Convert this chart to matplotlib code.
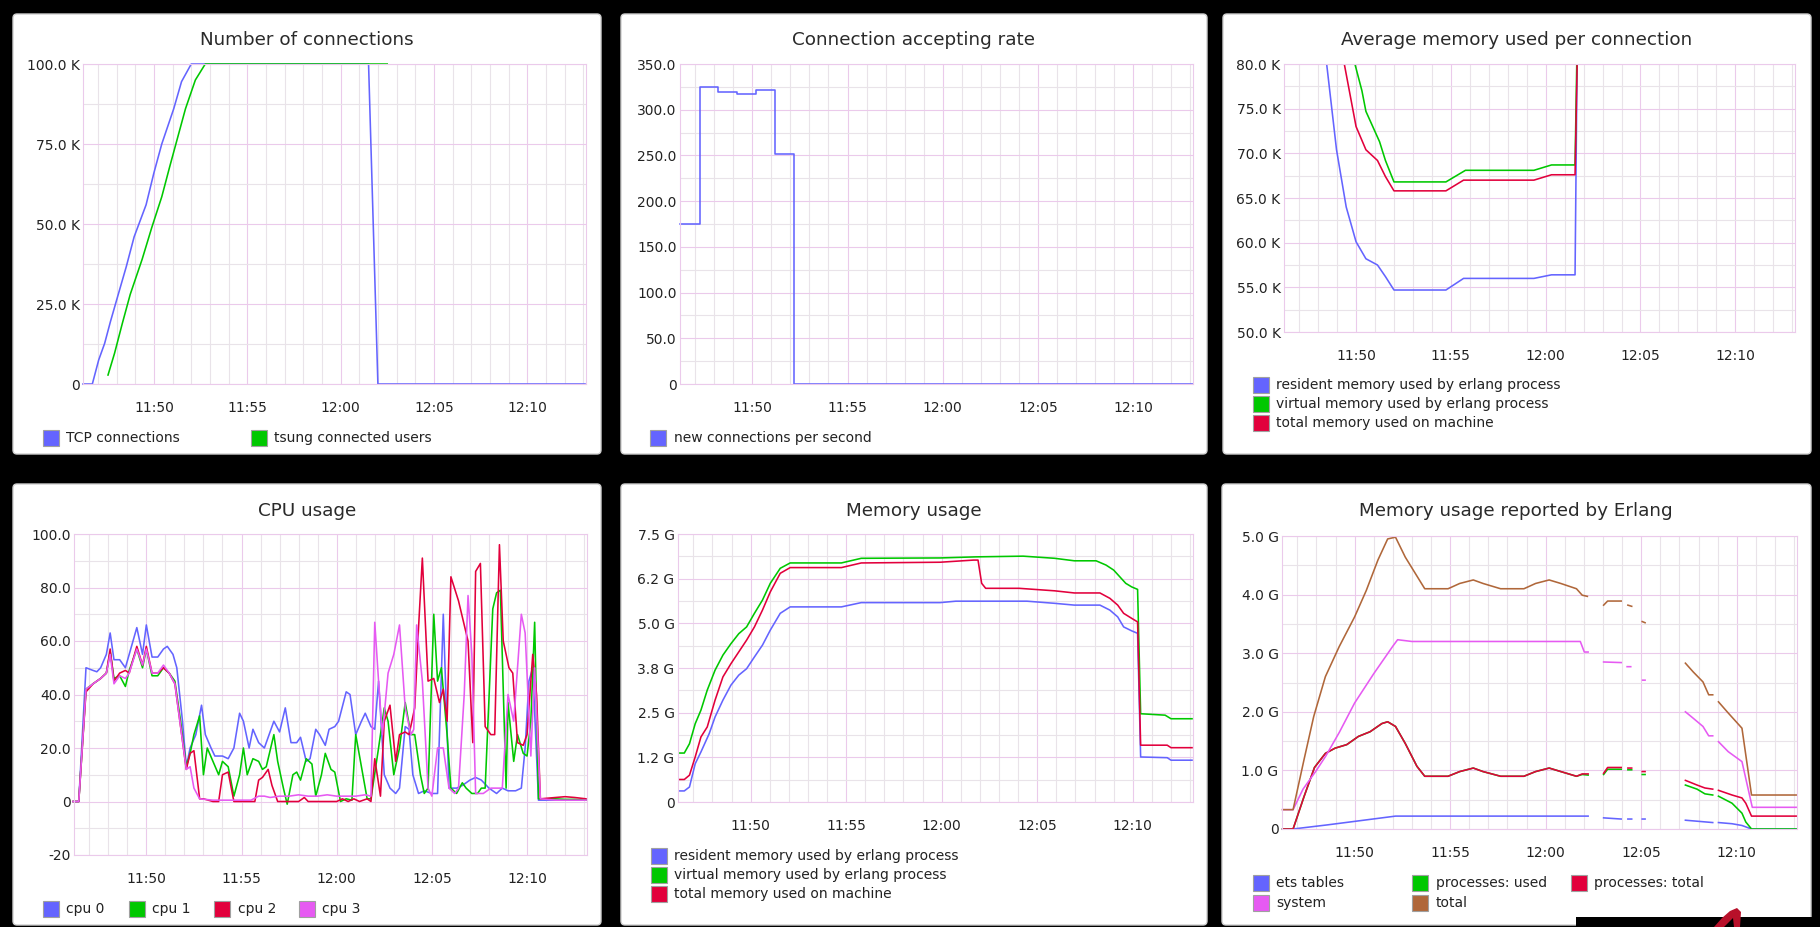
import numpy as np
import matplotlib
matplotlib.use("Agg")
import matplotlib.pyplot as plt
from matplotlib.patches import FancyBboxPatch, Rectangle, Polygon
from matplotlib.ticker import MultipleLocator
from matplotlib.transforms import IdentityTransform

nan = np.nan
W, H = 1820, 927

# ---------------- shared time axis (minutes after 11:00) ----------------
X_RANGE = (46.2, 73.15)
X_TICKS = [50, 55, 60, 65, 70]
X_TICK_LABELS = ["11:50", "11:55", "12:00", "12:05", "12:10"]
X_MINOR = [47, 48, 49, 51, 52, 53, 54, 56, 57, 58, 59, 61, 62, 63, 64,
           66, 67, 68, 69, 71, 72, 73]

# ---------------- panel 1: Number of connections (K) ----------------
tcp_t = [46.2, 46.7, 47.04, 47.36, 47.67, 47.99, 48.52, 48.94, 49.58, 50.0,
         50.42, 51.06, 51.48, 52.0, 61.5, 62.0, 73.1]
tcp_v = [0, 0, 7.5, 12.7, 19.5, 26, 36.7, 46, 56, 66, 75, 86, 94.5, 100, 100, 0, 0]
tsung_t = [47.54, 47.89, 48.31, 48.73, 49.37, 49.89, 50.42, 50.85, 51.27, 51.69,
           52.22, 52.75, 62.5]
tsung_v = [2.8, 9.6, 19, 28, 39, 49, 58.5, 68, 77, 86, 95, 100, 100]
p1_yticks = [0, 25, 50, 75, 100]
p1_ylabels = ["0", "25.0 K", "50.0 K", "75.0 K", "100.0 K"]

# ---------------- panel 2: Connection accepting rate ----------------
rate_t = [46.2, 47.24, 48.2, 49.2, 50.2, 51.2, 52.2, 73.15]
rate_v = [175.5, 324.5, 319, 317, 321.5, 252, 0, 0]
p2_yticks = [0, 50, 100, 150, 200, 250, 300, 350]
p2_ylabels = ["0", "50.0", "100.0", "150.0", "200.0", "250.0", "300.0", "350.0"]

# ---------------- panel 3: Average memory per connection (K) ----------------
avg_res_t = [48.2, 48.45, 48.97, 49.48, 50.0, 50.52, 51.13, 51.55, 52.0, 54.74,
             55.67, 59.38, 60.31, 61.55, 61.7]
avg_res_v = [86, 80, 70.4, 64, 60.1, 58.2, 57.5, 56.2, 54.7, 54.7, 56.0, 56.0,
             56.4, 56.4, 90]
avg_virt_t = [49.8, 49.94, 50.31, 50.52, 51.24, 51.55, 52.0, 54.74, 55.77, 59.38,
              60.31, 61.55, 61.72]
avg_virt_v = [85, 80, 77, 74.7, 71.3, 69.2, 66.8, 66.8, 68.1, 68.1, 68.7, 68.7, 90]
avg_tot_t = [49.2, 49.38, 50.0, 50.52, 51.13, 51.55, 52.0, 54.74, 55.67, 59.38,
             60.31, 61.55, 61.75]
avg_tot_v = [85, 80, 73, 70.4, 69.2, 67.4, 65.8, 65.8, 67.0, 67.0, 67.6, 67.6, 90]
p3_yticks = [50, 55, 60, 65, 70, 75, 80]
p3_ylabels = ["50.0 K", "55.0 K", "60.0 K", "65.0 K", "70.0 K", "75.0 K", "80.0 K"]

# ---------------- panel 4: CPU usage ----------------
cpu0_t = [46.15, 46.45, 46.83, 47.2, 47.4, 47.6, 47.9, 48.1, 48.3, 48.6, 48.9, 49.1,
          49.5, 49.8, 50.0, 50.3, 50.6, 50.9, 51.1, 51.4, 51.6, 51.9, 52.1, 52.3,
          52.6, 52.9, 53.1, 53.4, 53.6, 54.0, 54.3, 54.6, 54.9, 55.1, 55.4, 55.6,
          55.9, 56.2, 56.5, 56.7, 57.0, 57.3, 57.6, 57.9, 58.1, 58.4, 58.6, 58.9,
          59.1, 59.4, 59.6, 59.9, 60.1, 60.5, 60.7, 61.0, 61.3, 61.5, 61.8, 62.0,
          62.2, 62.5, 62.8, 63.1, 63.3, 63.6, 63.8, 64.0, 64.3, 64.6, 65.0, 65.3,
          65.6, 65.9, 66.3, 66.6, 67.0, 67.3, 67.6, 68.0, 68.4, 68.7, 69.0, 69.4,
          69.7, 69.9, 70.1, 70.3, 70.6, 71.0, 71.5, 72.0, 72.5, 73.1]
cpu0_v = [0, 0, 50, 49, 48.5, 50, 55, 63, 53, 53, 50, 55,
          65, 55, 66, 54, 54, 57, 58, 55, 50, 30, 13, 20,
          25, 36, 25, 20, 17, 17, 16, 20, 33, 30, 20, 27,
          22, 20, 26, 30, 26, 35, 22, 22, 24, 15, 16, 27,
          25, 21, 27, 28, 30, 41, 40, 25, 30, 33, 28, 27,
          45, 10, 5, 3, 5, 28, 27, 10, 3, 4, 3, 3,
          70, 5, 5, 6, 8, 9, 8, 5, 3, 5, 4, 4,
          5, 20, 45, 50, 0.5, 0.5, 0.5, 0.5, 0.5, 0.5]
cpu1_t = [46.15, 46.45, 46.83, 47.2, 47.6, 47.9, 48.1, 48.3, 48.6, 48.9, 49.1, 49.5,
          49.8, 50.0, 50.3, 50.6, 50.9, 51.2, 51.5, 51.8, 52.1, 52.3, 52.5, 52.8,
          53.0, 53.2, 53.5, 53.8, 54.0, 54.3, 54.6, 54.9, 55.1, 55.3, 55.6, 55.9,
          56.1, 56.3, 56.7, 56.9, 57.2, 57.4, 57.7, 57.9, 58.1, 58.4, 58.7, 58.9,
          59.2, 59.4, 59.7, 59.9, 60.2, 60.5, 60.8, 61.0, 61.3, 61.6, 61.8, 62.2,
          62.5, 62.7, 63.0, 63.3, 63.6, 63.9, 64.1, 64.4, 64.6, 64.8, 65.1, 65.3,
          65.5, 65.8, 66.0, 66.3, 66.6, 66.8, 67.1, 67.4, 67.6, 67.8, 68.2, 68.4,
          68.6, 68.9, 69.0, 69.3, 69.5, 69.8, 70.0, 70.2, 70.4, 70.6, 71.0, 71.5,
          72.0, 72.5, 73.1]
cpu1_v = [0, 0, 42, 44, 46, 48, 56, 46, 47, 43, 49, 57,
          50, 57, 47, 47, 50, 48, 45, 30, 13, 18, 25, 32,
          10, 20, 15, 10, 15, 13, 2, 10, 20, 10, 16, 15,
          12, 13, 25, 15, 5, -1, 10, 11, 8, 16, 14, 2,
          10, 18, 12, 11, 0, 1, 0.5, 25, 13, 1, 1, 20,
          35, 30, 10, 20, 37, 25, 25, 10, 3, 5, 70, 45,
          50, 25, 5, 3, 7, 5, 3, 3, 5, 5, 72, 78,
          79, 5, 37, 15, 25, 18, 17, 30, 67, 1, 1, 1,
          0.8, 0.8, 0.5]
cpu2_t = [46.15, 46.45, 46.83, 47.2, 47.6, 47.9, 48.1, 48.3, 48.6, 48.9, 49.1, 49.5,
          49.8, 50.0, 50.3, 50.6, 50.9, 51.2, 51.5, 51.8, 52.1, 52.3, 52.5, 52.8,
          53.0, 53.5, 53.8, 54.0, 54.3, 54.6, 55.0, 55.4, 55.7, 55.9, 56.1, 56.4,
          56.6, 56.9, 57.2, 58.0, 58.3, 58.5, 59.0, 60.0, 60.3, 60.6, 60.9, 61.2,
          61.6, 61.8, 62.0, 62.3, 62.5, 62.8, 63.1, 63.3, 63.6, 63.8, 64.1, 64.3,
          64.5, 64.8, 65.1, 65.4, 65.6, 65.8, 66.0, 66.4, 66.9, 67.15, 67.3, 67.55,
          67.8, 68.1, 68.3, 68.55, 68.75, 69.05, 69.25, 69.5, 69.8, 70.0, 70.3, 70.5,
          70.7, 71.5, 72.0, 72.5, 73.1]
cpu2_v = [0, 0, 41, 44, 46, 48, 57, 45, 48, 49, 48, 58,
          51, 58, 48, 48, 50, 48, 44, 28, 12, 18, 19, 1,
          1, 0, 0, 10, 11, 0, 0, 0, 0, 8, 9, 12,
          6, 0, 0, 0, 1.5, 0, 0, 0, 1, 0, 1, 0,
          1, 0, 16, 2, 30, 36, 15, 25, 26, 25, 35, 65,
          91, 45, 46, 37, 42, 30, 84, 75, 60, 22, 86, 89,
          28, 25, 25, 96, 60, 50, 48, 22, 21, 25, 55, 40,
          1, 1.5, 1.8, 1.5, 1]
cpu3_t = [46.15, 46.45, 46.83, 47.2, 47.6, 47.9, 48.1, 48.3, 48.6, 48.9, 49.1, 49.5,
          49.8, 50.0, 50.3, 50.6, 50.9, 51.2, 51.5, 51.8, 52.1, 52.3, 52.5, 52.8,
          53.5, 55.0, 55.5, 55.9, 56.2, 56.5, 57.0, 57.5, 58.0, 58.5, 59.0, 59.5,
          60.0, 60.5, 61.0, 61.5, 61.8, 62.0, 62.2, 62.4, 62.7, 63.0, 63.3, 63.6,
          63.9, 64.05, 64.2, 64.5, 64.8, 65.0, 65.3, 65.6, 65.9, 66.2, 66.4, 66.7,
          66.9, 67.1, 67.3, 67.7, 68.1, 68.4, 68.7, 69.0, 69.3, 69.7, 69.9, 70.2,
          70.4, 70.7, 71.5, 72.5, 73.1]
cpu3_v = [0, 0, 42, 44, 46, 48, 55, 44, 47, 46, 48, 57,
          51, 57, 48, 48, 51, 48, 44, 28, 12, 13, 5, 1,
          0.5, 0.5, 0.5, 2, 2, 1.5, 2, 2, 2.5, 2, 2, 2.5,
          2, 2, 2, 2.5, 2, 67, 45, 25, 48, 55, 66, 35,
          25, 27, 66, 45, 5, 2, 20, 20, 5, 3, 5, 40,
          77, 55, 3, 3, 5, 5, 5, 40, 30, 70, 63, 17,
          50, 1, 0.5, 0.5, 0.5]
p4_yticks = [-20, 0, 20, 40, 60, 80, 100]
p4_ylabels = ["-20", "0", "20.0", "40.0", "60.0", "80.0", "100.0"]

# ---------------- panel 5: Memory usage (G) ----------------
mem_virt_t = [46.28, 46.53, 46.8, 47.1, 47.4, 47.73, 48.14, 48.55, 48.97, 49.38, 49.79,
              50.2, 50.62, 51.03, 51.55, 52.07, 54.75, 55.79, 59.92, 61.78, 64.26,
              65.91, 66.94, 68.08, 68.6, 69.0, 69.63, 69.94, 70.25, 70.41, 71.69,
              72.0, 73.1]
mem_virt_v = [1.37, 1.37, 1.63, 2.19, 2.57, 3.13, 3.69, 4.11, 4.43, 4.71, 4.9,
              5.28, 5.65, 6.12, 6.54, 6.69, 6.69, 6.82, 6.83, 6.86, 6.88,
              6.82, 6.75, 6.75, 6.63, 6.49, 6.12, 6.02, 5.95, 2.47, 2.43,
              2.33, 2.33]
mem_tot_t = [46.28, 46.53, 46.8, 47.1, 47.4, 47.73, 48.14, 48.55, 48.97, 49.38, 49.79,
             50.2, 50.62, 51.03, 51.55, 52.07, 54.75, 55.79, 59.92, 61.67, 61.9,
             62.09, 62.3, 64.05, 65.91, 66.94, 68.28, 68.8, 69.21, 69.52, 69.94,
             70.25, 70.41, 71.8, 72.0, 73.1]
mem_tot_v = [0.63, 0.63, 0.75, 1.26, 1.82, 2.1, 2.85, 3.5, 3.87, 4.2, 4.53,
             4.9, 5.37, 5.88, 6.4, 6.56, 6.56, 6.69, 6.71, 6.77, 6.77,
             6.12, 5.98, 5.98, 5.91, 5.85, 5.85, 5.7, 5.51, 5.28, 5.14,
             5.04, 1.59, 1.59, 1.52, 1.52]
mem_res_t = [46.28, 46.53, 46.8, 47.1, 47.4, 47.83, 48.14, 48.55, 48.97, 49.38, 49.79,
             50.2, 50.62, 51.03, 51.55, 52.07, 54.75, 55.79, 59.92, 60.74, 64.46,
             65.91, 66.94, 68.28, 68.8, 69.21, 69.52, 69.94, 70.25, 70.41, 71.8,
             72.0, 73.1]
mem_res_v = [0.31, 0.31, 0.42, 1.07, 1.4, 1.91, 2.38, 2.85, 3.27, 3.55, 3.73,
             4.06, 4.39, 4.81, 5.28, 5.46, 5.46, 5.58, 5.58, 5.62, 5.62,
             5.56, 5.51, 5.51, 5.37, 5.18, 4.9, 4.79, 4.72, 1.26, 1.24,
             1.17, 1.17]
p5_yticks = [0, 1.25, 2.5, 3.75, 5.0, 6.25, 7.5]
p5_ylabels = ["0", "1.2 G", "2.5 G", "3.8 G", "5.0 G", "6.2 G", "7.5 G"]

# ---------------- panel 6: Memory usage reported by Erlang (G) ----------------
ets_t = [46.23, 46.78, 48.57, 50.0, 52.14, 62.22, 62.6, 63.03, 63.95, 64.1, 64.3,
         64.5, 64.8, 65.05, 65.2, 66.0, 67.31, 68.74, 68.9, 69.04, 69.75, 70.27,
         70.77, 73.15]
ets_v = [0, 0, 0.07, 0.13, 0.22, 0.22, nan, 0.19, 0.17, nan, 0.17,
         0.17, nan, 0.17, 0.17, nan, 0.15, 0.11, nan, 0.11, 0.09, 0.06,
         0, 0]
proc_t = [46.23, 46.78, 47.35, 47.9, 48.47, 48.98, 49.59, 50.2, 50.81, 51.43, 51.73,
          52.14, 52.65, 53.26, 53.67, 54.89, 55.5, 56.21, 56.72, 57.64, 58.86,
          59.47, 60.18, 60.79, 61.61, 61.91, 62.22, 62.6, 63.03, 63.24, 63.95,
          64.1, 64.3, 64.5, 64.8, 65.05, 65.2, 66.0, 67.31, 67.92, 68.33, 68.74,
          68.9, 69.04, 69.75, 70.27, 70.47, 70.77, 73.15]
proc_total_v = [0, 0, 0.55, 1.05, 1.29, 1.38, 1.44, 1.58, 1.66, 1.8, 1.83,
                1.75, 1.46, 1.07, 0.9, 0.9, 0.98, 1.04, 0.98, 0.9, 0.9,
                0.98, 1.04, 0.98, 0.9, 0.94, 0.94, nan, 0.95, 1.05, 1.05,
                nan, 1.04, 1.04, nan, 0.98, 0.98, nan, 0.83, 0.75, 0.7, 0.68,
                nan, 0.66, 0.58, 0.53, 0.44, 0.22, 0.22]
proc_used_v = [0, 0, 0.55, 1.05, 1.29, 1.38, 1.44, 1.58, 1.66, 1.8, 1.83,
               1.75, 1.46, 1.07, 0.9, 0.9, 0.98, 1.04, 0.98, 0.9, 0.9,
               0.98, 1.04, 0.98, 0.9, 0.93, 0.92, nan, 0.93, 1.02, 1.02,
               nan, 1.01, 1.01, nan, 0.93, 0.93, nan, 0.75, 0.68, 0.6, 0.58,
               nan, 0.56, 0.44, 0.27, 0.12, 0, 0]
sys_t = [46.23, 46.78, 47.3, 48.0, 48.5, 49.2, 50.0, 51.0, 52.0, 52.25, 53.0, 61.81,
         62.02, 62.22, 62.6, 63.03, 63.95, 64.1, 64.26, 64.45, 64.8, 65.07, 65.2,
         66.0, 67.31, 67.72, 68.23, 68.53, 68.74, 68.9, 69.04, 69.55, 70.27,
         70.81, 73.15]
sys_v = [0.33, 0.33, 0.68, 1.0, 1.25, 1.65, 2.15, 2.65, 3.12, 3.23, 3.2, 3.2,
         3.02, 3.02, nan, 2.85, 2.84, nan, 2.77, 2.77, nan, 2.54, 2.54,
         nan, 2.0, 1.89, 1.75, 1.59, 1.59, nan, 1.49, 1.32, 1.15,
         0.37, 0.37]
erl_tot_t = [46.23, 46.78, 47.35, 47.86, 48.47, 49.19, 50.0, 50.61, 51.22, 51.73,
             52.14, 52.65, 53.67, 54.89, 55.5, 56.21, 56.72, 57.64, 58.86, 59.47,
             60.18, 60.79, 61.61, 61.91, 62.18, 62.6, 63.03, 63.24, 63.95, 64.1,
             64.3, 64.5, 64.8, 65.05, 65.2, 66.0, 67.31, 67.72, 68.23, 68.53,
             68.74, 68.9, 69.04, 69.55, 70.27, 70.77, 73.15]
erl_tot_v = [0.33, 0.33, 1.18, 1.92, 2.6, 3.11, 3.62, 4.07, 4.59, 4.95,
             4.98, 4.64, 4.1, 4.1, 4.19, 4.25, 4.19, 4.1, 4.1, 4.19,
             4.25, 4.19, 4.1, 3.99, 3.97, nan, 3.82, 3.89, 3.89, nan,
             3.82, 3.8, nan, 3.54, 3.52, nan, 2.83, 2.68, 2.51, 2.29,
             2.29, nan, 2.17, 1.98, 1.72, 0.58, 0.58]
p6_yticks = [0, 1, 2, 3, 4, 5]
p6_ylabels = ["0", "1.0 G", "2.0 G", "3.0 G", "4.0 G", "5.0 G"]

# ---------------- styling ----------------
BLUE = "#6464ff"
GREEN = "#00c800"
RED = "#e2003c"
MAGENTA = "#e65af2"
BROWN = "#b0673a"
MAJOR_GRID = "#ebcaeb"
MINOR_GRID = "#e9e3e9"
TEXT = "#222222"
LW = 1.15
FS_TICK = 10
FS_LEG = 10
FS_TITLE = 13.2

plt.rcParams["font.family"] = ["DejaVu Sans"]

fig = plt.figure(figsize=(W / 100, H / 100), dpi=100, facecolor="black")
ident = IdentityTransform()


def panel(x0, y0, x1, y1):
    p = FancyBboxPatch((x0, H - y1), x1 - x0, y1 - y0,
                       boxstyle="round,pad=0,rounding_size=4",
                       transform=ident, facecolor="white",
                       edgecolor="#cfcfcf", linewidth=1.0, zorder=-5)
    fig.patches.append(p)


def make_axes(x0, y0, x1, y1, ylim, yticks, ylabels, yminor):
    ax = fig.add_axes([x0 / W, 1 - y1 / H, (x1 - x0) / W, (y1 - y0) / H])
    ax.set_zorder(1)
    ax.set_facecolor("white")
    ax.set_xlim(*X_RANGE)
    ax.set_ylim(*ylim)
    ax.set_xticks(X_TICKS)
    ax.set_xticklabels(X_TICK_LABELS)
    ax.set_xticks(X_MINOR, minor=True)
    ax.set_yticks(yticks)
    ax.set_yticklabels(ylabels)
    ax.yaxis.set_minor_locator(MultipleLocator(yminor))
    ax.set_axisbelow(True)
    ax.grid(which="major", color=MAJOR_GRID, linewidth=0.8)
    ax.grid(which="minor", color=MINOR_GRID, linewidth=0.8)
    ax.tick_params(which="both", length=0, colors=TEXT)
    ax.tick_params(axis="x", pad=12.5, labelsize=FS_TICK)
    ax.tick_params(axis="y", pad=2.5, labelsize=FS_TICK)
    for s in ax.spines.values():
        s.set_color(MAJOR_GRID)
        s.set_linewidth(0.8)
    return ax


def title(cx, cy, text):
    fig.text(cx / W, 1 - cy / H, text, ha="center", va="center",
             fontsize=FS_TITLE, color="#2a2a2a")


def legend_item(x, y, color, text):
    r = Rectangle((x, H - y - 8), 16, 16, transform=ident, facecolor=color,
                  edgecolor="#a0a0a0", linewidth=0.8, zorder=3)
    fig.patches.append(r)
    fig.text((x + 23.5) / W, 1 - y / H, text, ha="left", va="center",
             fontsize=FS_LEG, color=TEXT)


# panels
panel(13, 14, 601, 454)
panel(621, 14, 1207, 454)
panel(1223, 14, 1811, 454)
panel(13, 484, 601, 925)
panel(621, 484, 1207, 925)
panel(1222, 484, 1811, 925)

# ---- panel 1
title(307, 40, "Number of connections")
ax1 = make_axes(83, 64, 586, 384, (0, 100), p1_yticks, p1_ylabels, 12.5)
ax1.plot(tcp_t, tcp_v, color=BLUE, lw=LW, clip_on=False)
ax1.plot(tsung_t, tsung_v, color=GREEN, lw=LW, clip_on=False)
legend_item(43, 438, BLUE, "TCP connections")
legend_item(251, 438, GREEN, "tsung connected users")

# ---- panel 2
title(914, 40, "Connection accepting rate")
ax2 = make_axes(680, 64, 1193, 384, (0, 350), p2_yticks, p2_ylabels, 25)
ax2.step(rate_t, rate_v, where="post", color=BLUE, lw=LW, clip_on=False)
legend_item(650, 438, BLUE, "new connections per second")

# ---- panel 3
title(1517, 40, "Average memory used per connection")
ax3 = make_axes(1284, 64, 1795, 332, (50, 80), p3_yticks, p3_ylabels, 2.5)
ax3.plot(avg_res_t, avg_res_v, color=BLUE, lw=LW)
ax3.plot(avg_virt_t, avg_virt_v, color=GREEN, lw=LW)
ax3.plot(avg_tot_t, avg_tot_v, color=RED, lw=LW)
legend_item(1253, 385, BLUE, "resident memory used by erlang process")
legend_item(1253, 404, GREEN, "virtual memory used by erlang process")
legend_item(1253, 423, RED, "total memory used on machine")

# ---- panel 4
title(307, 511, "CPU usage")
ax4 = make_axes(74, 534, 587, 855, (-20, 100), p4_yticks, p4_ylabels, 10)
for t, v, c in [(cpu0_t, cpu0_v, BLUE), (cpu1_t, cpu1_v, GREEN),
                (cpu2_t, cpu2_v, RED), (cpu3_t, cpu3_v, MAGENTA)]:
    ax4.plot(t, v, color=c, lw=LW, clip_on=False)
legend_item(43, 909, BLUE, "cpu 0")
legend_item(129, 909, GREEN, "cpu 1")
legend_item(214, 909, RED, "cpu 2")
legend_item(299, 909, MAGENTA, "cpu 3")

# ---- panel 5
title(914, 511, "Memory usage")
ax5 = make_axes(678, 534, 1193, 802, (0, 7.5), p5_yticks, p5_ylabels, 0.625)
ax5.plot(mem_res_t, mem_res_v, color=BLUE, lw=LW, clip_on=False)
ax5.plot(mem_virt_t, mem_virt_v, color=GREEN, lw=LW, clip_on=False)
ax5.plot(mem_tot_t, mem_tot_v, color=RED, lw=LW, clip_on=False)
legend_item(651, 856, BLUE, "resident memory used by erlang process")
legend_item(651, 875, GREEN, "virtual memory used by erlang process")
legend_item(651, 894, RED, "total memory used on machine")

# ---- panel 6
title(1516, 511, "Memory usage reported by Erlang")
ax6 = make_axes(1282, 536, 1797, 829, (0, 5), p6_yticks, p6_ylabels, 0.5)
ax6.plot(ets_t, ets_v, color=BLUE, lw=LW, clip_on=False)
ax6.plot(proc_t, proc_used_v, color=GREEN, lw=LW, clip_on=False)
ax6.plot(proc_t, proc_total_v, color=RED, lw=LW, clip_on=False)
ax6.plot(sys_t, sys_v, color=MAGENTA, lw=LW, clip_on=False)
ax6.plot(erl_tot_t, erl_tot_v, color=BROWN, lw=LW, clip_on=False)
legend_item(1253, 883, BLUE, "ets tables")
legend_item(1412, 883, GREEN, "processes: used")
legend_item(1571, 883, RED, "processes: total")
legend_item(1253, 903, MAGENTA, "system")
legend_item(1412, 903, BROWN, "total")

# overlay fragment at bottom right (partial logo)
fig.patches.append(Rectangle((1576, 0), W - 1576, 10, transform=ident,
                             facecolor="black", edgecolor="none", zorder=4))
fig.patches.append(Polygon([(1714, 0), (1722, 9), (1730, 16), (1737, 19),
                            (1741, 15), (1740, 0), (1734, 0), (1733, 9),
                            (1724, 0)], closed=True, transform=ident,
                           facecolor="#b8102a", edgecolor="none", zorder=5))

fig.savefig("out.png", dpi=100, facecolor="black")
